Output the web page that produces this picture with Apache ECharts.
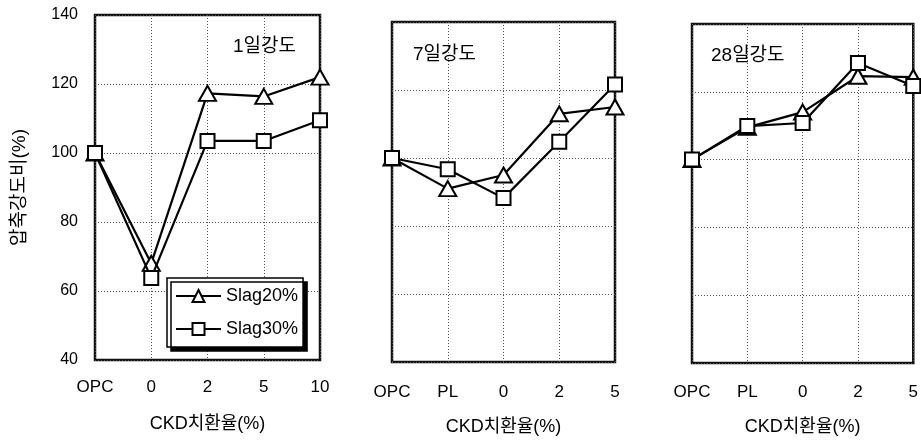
<!DOCTYPE html>
<html>
<head>
<meta charset="utf-8">
<script src="https://cdn.jsdelivr.net/npm/echarts@6/dist/echarts.min.js"></script>
<style>
  html, body { margin: 0; padding: 0; background: #fff; }
  #chart { width: 921px; height: 441px; }
</style>
</head>
<body>
<div id="chart"></div>
<script>
// Compressive strength ratio (%) vs. CKD replacement ratio, three curing ages
const categoriesDay1 = ['OPC', '0', '2', '5', '10'];
const categoriesDay7 = ['OPC', 'PL', '0', '2', '5'];
const categoriesDay28 = ['OPC', 'PL', '0', '2', '5'];

const day1Slag20 = [100, 68, 117.3, 116.4, 122];
const day1Slag30 = [100, 63.8, 103.5, 103.5, 109.5];
const day7Slag20 = [100, 91, 95, 113, 115];
const day7Slag30 = [100, 96.7, 88.2, 104.8, 121.6];
const day28Slag20 = [100, 109.5, 114, 124.6, 124.3];
const day28Slag30 = [100, 109.9, 110.8, 128.5, 121.7];

const seriesNames = ['Slag20%', 'Slag30%'];
const yTicks = { min: 40, max: 140, interval: 20 };
const panelTitles = ['1일강도', '7일강도', '28일강도'];
const yAxisTitle = '압축강도비(%)';
const xAxisTitle = 'CKD치환율(%)';

const FONT = '"Liberation Sans", "Noto Sans CJK KR", sans-serif';
const INK = '#000';

const panels = [
  { left: 95, top: 15, width: 225, height: 345, cats: categoriesDay1, s20: day1Slag20, s30: day1Slag30, title: [233, 37], labelGap: 19, nameGap: 55 },
  { left: 392, top: 22, width: 223, height: 344, cats: categoriesDay7, s20: day7Slag20, s30: day7Slag30, title: [413, 45], labelGap: 22, nameGap: 56 },
  { left: 692, top: 24, width: 225, height: 344, cats: categoriesDay28, s20: day28Slag20, s30: day28Slag30, title: [711, 46], labelGap: 21, nameGap: 55 }
];

const gridLine = { show: true, lineStyle: { color: '#555', type: [1, 2], width: 1 } };

const grid = panels.map(p => ({
  left: p.left, top: p.top, width: p.width, height: p.height,
  show: true, borderColor: '#111', borderWidth: 2.5, backgroundColor: 'transparent'
}));

const xAxis = panels.map((p, i) => ({
  type: 'category', gridIndex: i, data: p.cats, boundaryGap: false,
  axisLine: { show: false }, axisTick: { show: false },
  axisLabel: { fontSize: 17, color: INK, fontFamily: FONT, margin: p.labelGap },
  splitLine: gridLine,
  name: xAxisTitle, nameLocation: 'middle', nameGap: p.nameGap,
  nameTextStyle: { fontSize: 18, color: INK, fontFamily: FONT }
}));

const yAxis = panels.map((p, i) => ({
  type: 'value', gridIndex: i, min: yTicks.min, max: yTicks.max, interval: yTicks.interval,
  axisLine: { show: false }, axisTick: { show: false },
  axisLabel: { show: i === 0, fontSize: 16, color: INK, fontFamily: FONT, margin: 17 },
  splitLine: gridLine,
  name: i === 0 ? yAxisTitle : '', nameLocation: 'middle', nameGap: 66, nameRotate: 90,
  nameTextStyle: { fontSize: 19, color: INK, fontFamily: FONT }
}));

const lineBase = {
  type: 'line',
  lineStyle: { color: '#000', width: 2.2 },
  itemStyle: { color: '#fff', borderColor: '#000', borderWidth: 2 },
  emphasis: { disabled: true },
  z: 3
};

const series = [];
panels.forEach((p, i) => {
  series.push(Object.assign({}, lineBase, {
    name: seriesNames[0], xAxisIndex: i, yAxisIndex: i, data: p.s20,
    symbol: 'triangle', symbolSize: [17, 15]
  }));
  series.push(Object.assign({}, lineBase, {
    name: seriesNames[1], xAxisIndex: i, yAxisIndex: i, data: p.s30,
    symbol: 'rect', symbolSize: 14, z: 4
  }));
});

const title = panels.map((p, i) => ({
  text: panelTitles[i], left: p.title[0], top: p.title[1], padding: 0,
  textStyle: { fontSize: 19, fontWeight: 'normal', color: INK, fontFamily: FONT }
}));

const chart = echarts.init(document.getElementById('chart'), null, { renderer: 'canvas' });
chart.setOption({
  animation: false,
  backgroundColor: '#fff',
  title,
  grid, xAxis, yAxis, series,
  legend: {
    data: seriesNames,
    orient: 'vertical',
    left: 167, top: 278,
    padding: [9, 5, 9, 8],
    itemWidth: 45, itemHeight: 15, itemGap: 15,
    backgroundColor: '#fff',
    borderColor: '#000', borderWidth: 1.5,
    shadowColor: '#000', shadowBlur: 0, shadowOffsetX: 4, shadowOffsetY: 4,
    selectedMode: false,
    textStyle: { fontSize: 18, color: INK, fontFamily: FONT }
  }
});
</script>
</body>
</html>
